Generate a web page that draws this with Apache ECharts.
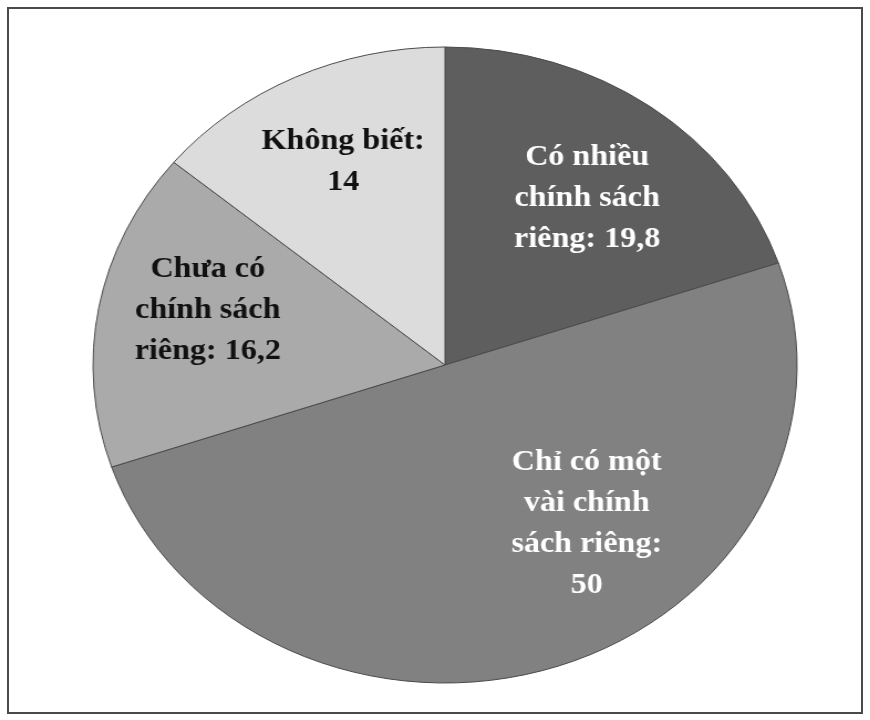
<!DOCTYPE html>
<html>
<head>
<meta charset="utf-8">
<script src="https://cdn.jsdelivr.net/npm/echarts@6/dist/echarts.min.js"></script>
<style>
  html, body { margin: 0; padding: 0; background: #fff; }
  .frame {
    position: absolute; left: 7px; top: 7px;
    width: 852px; height: 703px;
    border: 2px solid #4a4a4a;
  }
  /* the source picture is stretched sideways, so the chart is drawn narrow and scaled */
  #main {
    position: absolute; left: 0; top: 0;
    width: 786px; height: 720px;
    transform: scaleX(1.107);
    transform-origin: 0 0;
  }
</style>
</head>
<body>
<div class="frame"></div>
<div id="main"></div>
<script>
// data, clockwise from 12 o'clock
var names = ['Có nhiều\nchính sách\nriêng', 'Chỉ có một\nvài chính\nsách riêng', 'Chưa có\nchính sách\nriêng', 'Không biết'];
var values = [19.8, 50, 16.2, 14];

var sliceColors = ['#5e5e5e', '#818181', '#aaaaaa', '#dcdcdc'];
var labelColors = ['#ffffff', '#ffffff', '#111111', '#111111'];
// nudge labels away from the default r/2 spot, to where the source puts them
var labelNudge = [[34, -35], [76, 6], [-55, -25], [-23, -56]];

var myChart = echarts.init(document.getElementById('main'));

var option = {
  backgroundColor: 'transparent',
  animation: false,
  series: [
    {
      type: 'pie',
      center: [402, 365],
      radius: 318,
      startAngle: 90,
      clockwise: true,
      itemStyle: {
        borderColor: '#4a4a4a',
        borderWidth: 1
      },
      label: {
        position: 'inside',
        fontFamily: '"Liberation Serif", "Times New Roman", serif',
        fontWeight: 'bold',
        fontSize: 29,
        lineHeight: 41,
        align: 'center',
        formatter: function (p) {
          var t = p.name + ': ' + String(p.value).replace('.', ',');
          return p.dataIndex === 1 ? t.replace('riêng: ', 'riêng:\n') :
                 p.dataIndex === 3 ? t.replace(': ', ':\n') : t;
        }
      },
      labelLayout: function (p) {
        var n = labelNudge[p.dataIndex];
        return { dx: n[0], dy: n[1] };
      },
      emphasis: { disabled: true },
      data: names.map(function (n, i) {
        return {
          name: n,
          value: values[i],
          itemStyle: { color: sliceColors[i] },
          label: { color: labelColors[i] }
        };
      })
    }
  ]
};

option && myChart.setOption(option);
</script>
</body>
</html>
